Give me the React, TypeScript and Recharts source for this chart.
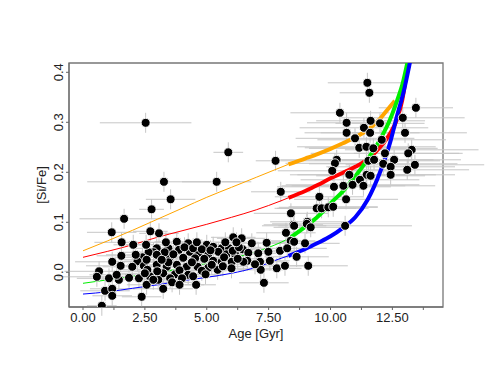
import React from 'react';
import {
  ComposedChart, Scatter, Line, XAxis, YAxis, ErrorBar, ReferenceArea,
} from 'recharts';

// stars: [age (Gyr), [Si/Fe], age error, [Si/Fe] error]
const stars: number[][] = [
  // sparse, high [Si/Fe]
  [2.53, 0.299, 1.85, 0.02], [3.27, 0.181, 3.1, 0.02], [5.4, 0.181, 1.4, 0.02],
  [3.54, 0.146, 1.0, 0.02], [2.77, 0.126, 0.5, 0.02], [1.66, 0.107, 1.8, 0.02],
  [5.87, 0.24, 0.6, 0.02], [7.78, 0.223, 0.8, 0.02], [7.99, 0.161, 1.2, 0.02],
  [8.4, 0.118, 1.5, 0.02], [8.5, 0.095, 1.2, 0.02],
  // old stars
  [11.49, 0.379, 1.6, 0.02], [11.57, 0.359, 1.2, 0.02], [13.45, 0.329, 1.5, 0.02],
  [10.38, 0.319, 2.0, 0.02], [10.65, 0.299, 1.6, 0.02], [11.62, 0.303, 2.2, 0.02],
  [12.0, 0.298, 1.8, 0.02], [12.92, 0.309, 2.5, 0.02], [10.65, 0.279, 1.7, 0.02],
  [11.35, 0.289, 2.6, 0.02], [11.6, 0.279, 2.0, 0.02], [13.01, 0.279, 2.5, 0.02],
  [10.99, 0.268, 2.4, 0.02], [12.07, 0.265, 2.6, 0.02], [11.16, 0.249, 2.2, 0.02],
  [11.45, 0.251, 2.8, 0.02], [11.73, 0.248, 2.6, 0.02], [12.2, 0.238, 3.0, 0.02],
  [13.28, 0.245, 2.7, 0.02], [13.14, 0.238, 2.2, 0.02], [10.25, 0.225, 2.5, 0.02],
  [10.18, 0.218, 2.0, 0.02], [11.53, 0.223, 2.9, 0.02], [11.76, 0.225, 2.4, 0.02],
  [12.57, 0.225, 2.7, 0.02], [10.07, 0.203, 2.2, 0.02], [12.13, 0.217, 3.0, 0.02],
  [12.43, 0.211, 2.6, 0.02], [13.41, 0.215, 2.8, 0.02], [13.1, 0.205, 2.5, 0.02],
  [10.76, 0.195, 2.4, 0.02], [11.46, 0.195, 2.8, 0.02], [11.62, 0.193, 2.2, 0.02],
  [12.43, 0.195, 2.6, 0.02], [10.14, 0.171, 2.3, 0.02], [10.52, 0.173, 2.5, 0.02],
  [10.89, 0.175, 2.7, 0.02], [11.19, 0.185, 2.4, 0.02], [11.33, 0.173, 2.9, 0.02],
  [9.55, 0.151, 1.8, 0.02], [10.63, 0.146, 2.1, 0.02], [9.44, 0.128, 1.6, 0.02],
  [9.64, 0.128, 1.9, 0.02], [9.91, 0.13, 2.0, 0.02], [10.11, 0.131, 1.8, 0.02],
  [9.06, 0.101, 1.5, 0.02], [10.59, 0.093, 2.7, 0.02], [8.53, 0.093, 1.3, 0.02],
  [9.04, 0.097, 1.4, 0.02], [9.2, 0.09, 1.5, 0.02], [8.2, 0.079, 1.2, 0.02],
  [8.39, 0.063, 1.0, 0.02], [8.53, 0.061, 1.2, 0.02], [8.97, 0.058, 1.4, 0.02],
  // intermediate ages
  [6.82, 0.058, 0.9, 0.02], [7.42, 0.059, 0.8, 0.02], [6.41, 0.068, 1.0, 0.02],
  [6.45, 0.046, 0.8, 0.02], [7.08, 0.038, 1.0, 0.02], [7.49, 0.041, 1.2, 0.02],
  [7.96, 0.043, 1.0, 0.02], [8.25, 0.048, 1.6, 0.02], [8.63, 0.031, 1.3, 0.02],
  [6.68, 0.039, 0.7, 0.02], [6.64, 0.023, 0.9, 0.02], [7.15, 0.021, 1.1, 0.02],
  [7.55, 0.023, 0.8, 0.02], [7.83, 0.008, 1.0, 0.02], [8.16, 0.013, 1.2, 0.02],
  [9.1, 0.013, 1.6, 0.02], [7.18, 0.005, 0.9, 0.02], [7.31, -0.021, 1.0, 0.02],
  [6.95, 0.016, 0.8, 0.02], [6.48, 0.021, 0.7, 0.02],
  // dense core
  [3.07, 0.078, 0.8, 0.02], [3.79, 0.061, 0.9, 0.02], [4.25, 0.058, 0.7, 0.02],
  [5.0, 0.055, 0.8, 0.02], [5.26, 0.051, 1.0, 0.02], [5.6, 0.048, 0.9, 0.02],
  [5.9, 0.048, 0.8, 0.02], [2.98, 0.048, 1.0, 0.02], [3.45, 0.048, 0.9, 0.02],
  [3.88, 0.045, 0.8, 0.02], [4.32, 0.041, 0.9, 0.02], [4.66, 0.038, 0.7, 0.02],
  [5.06, 0.036, 1.0, 0.02], [5.47, 0.041, 0.8, 0.02], [5.8, 0.036, 0.9, 0.02],
  [6.14, 0.036, 0.8, 0.02], [3.11, 0.031, 1.1, 0.02], [3.52, 0.031, 0.8, 0.02],
  [4.05, 0.029, 0.9, 0.02], [4.53, 0.028, 1.0, 0.02], [4.9, 0.027, 0.8, 0.02],
  [5.26, 0.023, 0.9, 0.02], [5.6, 0.021, 1.0, 0.02], [6.01, 0.021, 0.8, 0.02],
  [2.98, 0.015, 1.2, 0.02], [3.38, 0.011, 0.9, 0.02], [3.79, 0.015, 1.0, 0.02],
  [4.19, 0.011, 0.8, 0.02], [4.63, 0.011, 1.1, 0.02], [5.06, 0.009, 0.9, 0.02],
  [5.44, 0.005, 1.0, 0.02], [3.24, -0.002, 1.0, 0.02], [3.72, -0.004, 0.9, 0.02],
  [4.25, -0.005, 1.1, 0.02], [3.04, -0.015, 0.8, 0.02], [3.52, -0.012, 1.0, 0.02],
  [4.57, -0.025, 0.8, 0.02], [3.24, -0.033, 1.2, 0.02], [6.07, 0.07, 0.9, 0.02],
  [6.05, 0.043, 0.8, 0.02], [2.85, 0.04, 0.9, 0.02], [3.3, 0.04, 1.0, 0.02],
  [3.65, 0.036, 0.8, 0.02], [4.1, 0.05, 0.9, 0.02], [4.45, 0.048, 1.0, 0.02],
  [4.8, 0.046, 0.8, 0.02], [5.15, 0.044, 0.9, 0.02], [5.7, 0.03, 1.0, 0.02],
  [6.25, 0.027, 0.8, 0.02], [6.3, 0.05, 0.9, 0.02], [3.0, 0.002, 1.1, 0.02],
  [3.45, 0.02, 0.9, 0.02], [3.9, 0.004, 1.0, 0.02], [4.4, 0.02, 0.8, 0.02],
  [4.8, 0.003, 1.0, 0.02], [5.2, 0.015, 0.9, 0.02], [5.65, 0.012, 1.0, 0.02],
  [6.0, 0.008, 0.8, 0.02], [3.6, -0.02, 1.0, 0.02], [4.0, -0.012, 0.9, 0.02],
  [4.45, -0.008, 1.0, 0.02], [4.95, -0.004, 0.8, 0.02], [3.9, -0.025, 1.0, 0.02],
  [2.7, -0.008, 0.9, 0.02], [2.65, 0.04, 1.0, 0.02], [2.4, 0.03, 1.1, 0.02],
  [2.2, 0.022, 1.0, 0.02], [6.2, 0.06, 0.9, 0.02], [5.75, 0.06, 0.8, 0.02],
  [4.6, 0.06, 0.9, 0.02], [3.35, 0.06, 1.0, 0.02], [2.55, 0.055, 0.9, 0.02],
  // young stars
  [1.16, 0.08, 1.0, 0.02], [1.56, 0.06, 1.1, 0.02], [2.72, 0.082, 0.7, 0.02],
  [2.03, 0.055, 0.8, 0.02], [1.55, 0.033, 1.0, 0.02], [2.13, 0.035, 1.2, 0.02],
  [1.18, 0.021, 1.5, 0.02], [1.52, 0.013, 1.4, 0.02], [1.99, 0.011, 1.2, 0.02],
  [2.46, 0.013, 1.0, 0.02], [0.65, 0.002, 1.4, 0.02], [0.56, -0.009, 1.6, 0.02],
  [1.05, -0.012, 1.3, 0.02], [1.45, -0.015, 1.0, 0.02], [1.86, -0.011, 1.2, 0.02],
  [2.26, -0.012, 0.9, 0.02], [2.6, 0.005, 1.0, 0.02], [0.89, -0.037, 1.0, 0.02],
  [1.18, -0.033, 0.9, 0.02], [1.18, -0.047, 0.8, 0.02], [0.76, -0.067, 0.6, 0.02],
  [2.37, -0.049, 0.8, 0.02], [1.36, -0.005, 1.1, 0.02], [2.57, 0.025, 0.9, 0.02],
  [2.5, -0.002, 1.0, 0.02], [2.57, -0.025, 0.8, 0.02], [2.84, -0.015, 1.0, 0.02],
  [2.98, 0.035, 0.9, 0.02], [3.18, 0.025, 1.0, 0.02],
];

// model curves
const orangeAge = [0, 1, 2, 3, 4, 5, 6, 7, 8, 8.3, 9, 9.5, 10, 10.5, 11, 11.5, 12, 12.3, 12.6];
const orangeVal = [0.043, 0.063, 0.084, 0.106, 0.128, 0.15, 0.17, 0.19, 0.21, 0.216, 0.228, 0.237, 0.247, 0.258, 0.27, 0.285, 0.307, 0.325, 0.343];
const redAge = [0, 1, 2, 3, 4, 5, 6, 7, 8, 8.3, 9, 9.5, 10, 10.5, 11, 11.5, 12, 12.4, 12.7, 12.9, 13.05, 13.2];
const redVal = [0.03, 0.042, 0.055, 0.07, 0.083, 0.096, 0.11, 0.125, 0.143, 0.149, 0.163, 0.175, 0.188, 0.199, 0.211, 0.226, 0.25, 0.277, 0.308, 0.345, 0.39, 0.44];
const greenAge = [0, 1, 2, 3, 4, 5, 6, 7, 8, 8.3, 9, 9.5, 10, 10.5, 11, 11.5, 12, 12.4, 12.7, 12.9, 13.15];
const greenVal = [-0.022, -0.015, -0.008, -0.001, 0.008, 0.018, 0.028, 0.041, 0.06, 0.067, 0.092, 0.112, 0.138, 0.162, 0.192, 0.226, 0.265, 0.305, 0.345, 0.375, 0.43];
const blueAge = [0, 1, 2, 3, 4, 5, 6, 7, 8, 8.3, 9, 9.5, 10, 10.5, 11, 11.5, 12, 12.4, 12.7, 12.95, 13.25];
const blueVal = [-0.0435, -0.039, -0.032, -0.025, -0.017, -0.01, -0.002, 0.01, 0.028, 0.033, 0.047, 0.059, 0.072, 0.089, 0.11, 0.145, 0.2, 0.258, 0.315, 0.36, 0.43];

const xTicks = [0, 1.25, 2.5, 3.75, 5, 6.25, 7.5, 8.75, 10, 11.25, 12.5, 13.75];
const yTicks = [0, 0.1, 0.2, 0.3, 0.4];

const X_DOMAIN: [number, number] = [-0.566, 14.545];
const Y_DOMAIN: [number, number] = [-0.0694, 0.4186];
const SPLIT_AGE = 8.3; // thin before, thick after

const starData = stars.map(([age, val, ageErr, valErr]) => ({ age, val, ageErr, valErr }));

const toSeries = (ages: number[], vals: number[]) => ages.map((age, i) => ({ age, val: vals[i] }));

const curves = [
  { name: 'orange', color: '#FFA500', data: toSeries(orangeAge, orangeVal) },
  { name: 'red', color: '#FF0000', data: toSeries(redAge, redVal) },
  { name: 'green', color: '#00EE00', data: toSeries(greenAge, greenVal) },
  { name: 'blue', color: '#0000FF', data: toSeries(blueAge, blueVal) },
];

const FONT = '"Liberation Sans", Arial, sans-serif';
const AXIS = '#666';

const Dot = (props: any) => (
  <circle cx={props.cx} cy={props.cy} r={4.5} fill="#000" stroke="#fff" strokeWidth={0.9} />
);

const YTick = ({ y, payload }: any) => (
  <text x={63.5} y={y} transform={`rotate(-90 63.5 ${y})`} textAnchor="middle"
    fontSize={13} fill="#222" fontFamily={FONT}>
    {payload.value.toFixed(1)}
  </text>
);

const XTick = ({ x, payload }: any) => {
  const v = payload.value;
  if (Math.abs(v / 2.5 - Math.round(v / 2.5)) > 1e-6) return <g />;
  return (
    <text x={x} y={321.5} textAnchor="middle" fontSize={13} fill="#222" fontFamily={FONT}>
      {v.toFixed(2)}
    </text>
  );
};

export default function App() {
  return (
    <div style={{ position: 'absolute', left: 0, top: 0, fontFamily: FONT }}>
      <ComposedChart width={491} height={382} margin={{ top: 63, right: 48, left: 0, bottom: 0 }}>
        <XAxis type="number" dataKey="age" domain={X_DOMAIN} allowDataOverflow ticks={xTicks}
          interval={0} tick={<XTick />} tickSize={3} stroke={AXIS} height={75}
          label={{ content: () => (
            <text x={256} y={338} textAnchor="middle" fontSize={13} fill="#222" fontFamily={FONT}>Age [Gyr]</text>
          ) }} />
        <YAxis type="number" dataKey="val" domain={Y_DOMAIN} allowDataOverflow ticks={yTicks}
          interval={0} tick={<YTick />} tickSize={3} stroke={AXIS} width={69}
          label={{ content: () => (
            <text x={46} y={185} transform="rotate(-90 46 185)" textAnchor="middle" fontSize={13}
              fill="#222" fontFamily={FONT}>[Si/Fe]</text>
          ) }} />
        <Scatter data={starData} dataKey="val" shape={<Dot />} isAnimationActive={false}>
          <ErrorBar dataKey="ageErr" direction="x" width={0} stroke="#c6c6c6" strokeWidth={1} />
          <ErrorBar dataKey="valErr" direction="y" width={0} stroke="#c6c6c6" strokeWidth={1} />
        </Scatter>
        {curves.map((c) => (
          <Line key={c.name + '-thin'} data={c.data.filter((d) => d.age <= SPLIT_AGE)} dataKey="val"
            type="monotone" stroke={c.color} strokeWidth={1} dot={false} activeDot={false}
            isAnimationActive={false} />
        ))}
        {curves.map((c) => (
          <Line key={c.name + '-thick'} data={c.data.filter((d) => d.age >= SPLIT_AGE)} dataKey="val"
            type="monotone" stroke={c.color} strokeWidth={4} dot={false} activeDot={false}
            isAnimationActive={false} />
        ))}
        <ReferenceArea x1={X_DOMAIN[0]} x2={X_DOMAIN[1]} y1={Y_DOMAIN[0]} y2={Y_DOMAIN[1]}
          fill="none" stroke="#777" strokeWidth={1.3} />
      </ComposedChart>
    </div>
  );
}
